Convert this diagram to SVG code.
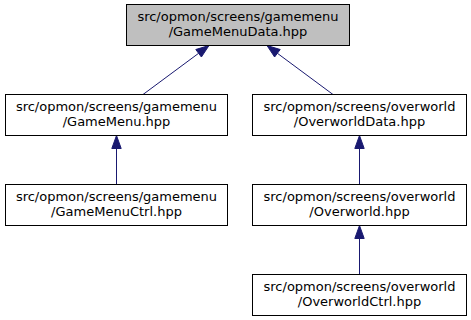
<svg xmlns="http://www.w3.org/2000/svg" width="471" height="320" viewBox="0 0 471 320">
  <style>
    .node rect { fill: #ffffff; stroke: #000000; stroke-width: 1; }
    .node.root rect { fill: #bfbfbf; }
    .node text { font-family: "DejaVu Sans", "Liberation Sans", sans-serif; font-size: 13px; fill: #000000; text-anchor: middle; }
    .edge line { stroke: #191970; stroke-width: 1; }
    .edge polygon { fill: #191970; stroke: #191970; stroke-width: 1; }
  </style>
  <rect x="0" y="0" width="471" height="320" fill="#ffffff"/>

  <!-- include dependency edges (arrow points at the included header) -->
  <g id="edges">
    <g class="edge" id="edge-gamemenu-data">
      <line x1="143" y1="94.5" x2="198.6" y2="53.3"/>
      <polygon points="209,45.5 201.4,57 195.8,49.5"/>
    </g>
    <g class="edge" id="edge-overworlddata-data">
      <line x1="333" y1="94.5" x2="277.4" y2="53.3"/>
      <polygon points="267,45.5 280.2,49.5 274.6,57"/>
    </g>
    <g class="edge" id="edge-gamemenuctrl-gamemenu">
      <line x1="116.5" y1="184.5" x2="116.5" y2="148.5"/>
      <polygon points="116.5,135.5 121.2,148.5 111.8,148.5"/>
    </g>
    <g class="edge" id="edge-overworld-overworlddata">
      <line x1="359.5" y1="184.5" x2="359.5" y2="148.5"/>
      <polygon points="359.5,135.5 364.2,148.5 354.8,148.5"/>
    </g>
    <g class="edge" id="edge-overworldctrl-overworld">
      <line x1="359.5" y1="274.5" x2="359.5" y2="238.5"/>
      <polygon points="359.5,225.5 364.2,238.5 354.8,238.5"/>
    </g>
  </g>

  <g class="node root" id="node-gamemenudata">
    <rect x="126.5" y="4.5" width="223" height="41"/>
    <text x="238" y="21">src/opmon/screens/gamemenu</text>
    <text x="238" y="36">/GameMenuData.hpp</text>
  </g>

  <g class="node" id="node-gamemenu">
    <rect x="5.5" y="94.5" width="222" height="41"/>
    <text x="116.5" y="111">src/opmon/screens/gamemenu</text>
    <text x="116.5" y="126">/GameMenu.hpp</text>
  </g>

  <g class="node" id="node-overworlddata">
    <rect x="252.5" y="94.5" width="214" height="41"/>
    <text x="359.5" y="111">src/opmon/screens/overworld</text>
    <text x="359.5" y="126">/OverworldData.hpp</text>
  </g>

  <g class="node" id="node-gamemenuctrl">
    <rect x="5.5" y="184.5" width="222" height="41"/>
    <text x="116.5" y="201">src/opmon/screens/gamemenu</text>
    <text x="116.5" y="216">/GameMenuCtrl.hpp</text>
  </g>

  <g class="node" id="node-overworld">
    <rect x="252.5" y="184.5" width="214" height="41"/>
    <text x="359.5" y="201">src/opmon/screens/overworld</text>
    <text x="359.5" y="216">/Overworld.hpp</text>
  </g>

  <g class="node" id="node-overworldctrl">
    <rect x="252.5" y="274.5" width="214" height="41"/>
    <text x="359.5" y="291">src/opmon/screens/overworld</text>
    <text x="359.5" y="306">/OverworldCtrl.hpp</text>
  </g>
</svg>
